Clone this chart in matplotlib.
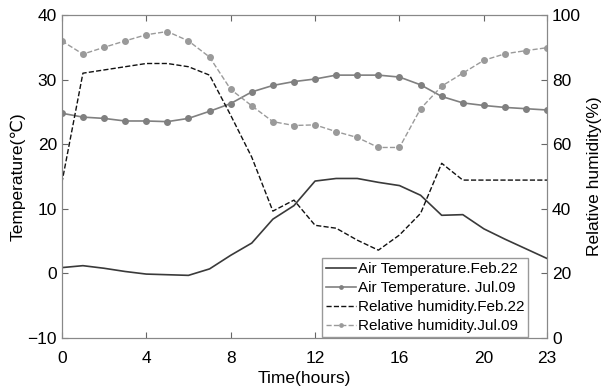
import numpy as np
import matplotlib
matplotlib.use("Agg")
import matplotlib.pyplot as plt

plt.rcParams['font.family'] = ['Liberation Sans', 'DejaVu Sans']

hours = list(range(24))

# air temperature (C)
temp_feb = [0.9, 1.2, 0.8, 0.3, -0.1, -0.2, -0.3, 0.7, 2.8, 4.7, 8.4, 10.5,
            14.3, 14.7, 14.7, 14.1, 13.6, 12.1, 9.0, 9.1, 6.9, 5.3, 3.8, 2.3]
temp_jul = [24.8, 24.2, 24.0, 23.6, 23.6, 23.5, 24.0, 25.1, 26.3, 28.1, 29.1, 29.7,
            30.1, 30.7, 30.7, 30.7, 30.4, 29.2, 27.4, 26.4, 26.0, 25.7, 25.5, 25.3]

# relative humidity (%)
rh_feb = [48, 82, 83, 84, 85, 85, 84, 81.4, 69, 56, 39.3, 42.7,
          34.9, 34.0, 30.3, 27.2, 31.9, 38.6, 54.1, 48.9, 48.9, 48.9, 48.9, 48.9]
rh_jul = [92, 87.9, 90, 92, 93.9, 94.9, 92, 87, 77, 71.9, 67, 65.8,
          66, 63.9, 62.1, 59, 59, 71, 78, 82, 86, 88, 89, 89.9]

xticks = [0, 4, 8, 12, 16, 20, 23]

fig = plt.figure(figsize=(6.06, 3.91), dpi=100)
ax = fig.add_axes([0.102, 0.1355, 0.801, 0.826])
ax2 = ax.twinx()

l1, = ax.plot(hours, temp_feb, '-', color='#3a3a3a', lw=1.2, label='Air Temperature.Feb.22')
l2, = ax.plot(hours, temp_jul, '-', color='#808080', lw=1.2, marker='o', ms=4,
              label='Air Temperature. Jul.09')
l3, = ax2.plot(hours, rh_feb, '--', color='#111111', lw=1.0, label='Relative humidity.Feb.22')
l4, = ax2.plot(hours, rh_jul, '--', color='#9a9a9a', lw=1.0, marker='o', ms=4,
               label='Relative humidity.Jul.09')

ax.set_xlim(0, 23)
ax.set_ylim(-10, 40)
ax2.set_ylim(0, 100)
ax.set_xticks(xticks)
ax.set_yticks([-10, 0, 10, 20, 30, 40])
ax2.set_yticks([0, 20, 40, 60, 80, 100])

for a in (ax, ax2):
    a.tick_params(direction='in', labelsize=12.5, length=4, color='#666666')
    for s in a.spines.values():
        s.set_color('#888888')
ax.tick_params(top=True)
ax.tick_params(axis='x', pad=9)

ax.set_xlabel('Time(hours)', fontsize=12.5, labelpad=4)
ax.set_ylabel('Temperature(℃)', fontsize=12.5, labelpad=1)
ax2.set_ylabel('Relative humidity(%)', fontsize=12.5, labelpad=4)

leg = ax2.legend([l1, l2, l3, l4], [l.get_label() for l in (l1, l2, l3, l4)],
                 loc='lower right', bbox_to_anchor=(0.961, 0.003), fontsize=11,
                 fancybox=False, framealpha=1, edgecolor='#999999',
                 handlelength=2.0, handletextpad=0.1, labelspacing=0.33,
                 borderpad=0.25, borderaxespad=0, numpoints=1, markerscale=0.6)

fig.savefig('out.png', dpi=100)
